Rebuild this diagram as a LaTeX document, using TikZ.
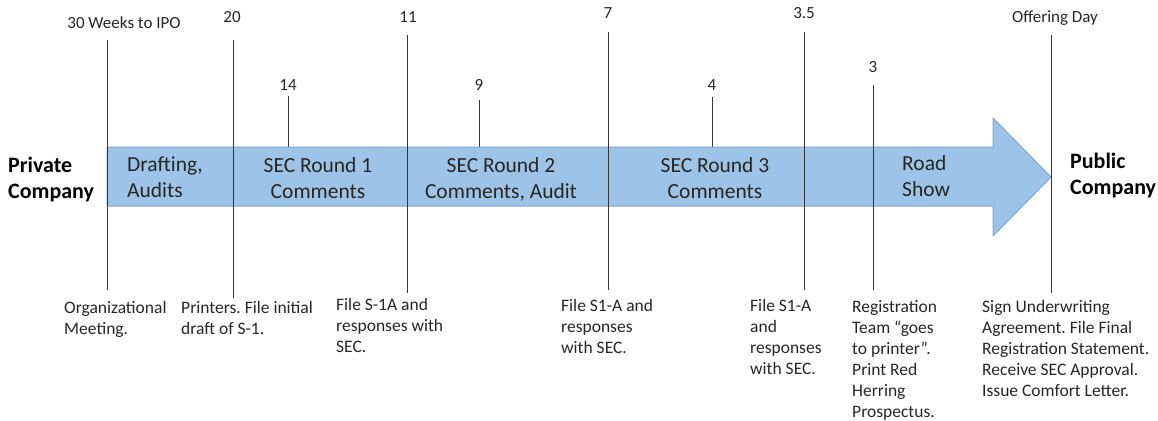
\documentclass[tikz,border=0pt]{standalone}
\usepackage{fontspec}
\setmainfont{Carlito}
\frenchspacing
\definecolor{arrowfill}{RGB}{157,195,230}
\definecolor{arrowedge}{RGB}{128,168,214}
\definecolor{textgray}{RGB}{38,38,38}
\definecolor{linegray}{RGB}{55,55,55}

\begin{document}
\begin{tikzpicture}[x=1pt,y=-1pt]

	\tikzstyle week=[font=\fontsize{17}{20}\selectfont, text=textgray, inner sep=0pt, anchor=base];
	\tikzstyle task note=[font=\fontsize{17.5}{21}\selectfont, text=textgray, inner sep=0pt, align=left, anchor=north west];
	\tikzstyle phase=[font=\fontsize{21.5}{26}\selectfont, text=textgray, inner sep=0pt, align=center, anchor=north];
	\tikzstyle company=[font=\bfseries\fontsize{22}{26}\selectfont, text=black, inner sep=0pt, align=left, anchor=north west];
	\tikzstyle week lines=[line width=0.9pt, draw=linegray];

	\useasboundingbox (0,0) rectangle (1158,420);

	% timeline arrow
	\filldraw[fill=arrowfill, draw=arrowedge, line width=1pt] (107,147) -- (993,147) -- (993,118) -- (1051,177) -- (993,236) -- (993,206) -- (107,206) -- cycle;

	% phases
	\node[company] (private) at (8,157) {Private\\Company};
	\node[company] (public) at (1070,153) {Public\\Company};
	\node[phase, align=left, anchor=north west] (drafting) at (127,157) {Drafting,\\Audits};
	\node[phase] (round1) at (318,157) {SEC Round 1\\Comments};
	\node[phase] (round2) at (501,157) {SEC Round 2\\Comments, Audit};
	\node[phase] (round3) at (715,157) {SEC Round 3\\Comments};
	\node[phase, align=left, anchor=north west] (roadshow) at (902,155) {Road\\Show};

	% weeks to IPO
	\node[week] (w30) at (124,29) {30 Weeks to IPO};
	\node[week] (w20) at (232,23) {20};
	\node[week] (w14) at (288,90) {14};
	\node[week] (w11) at (408,23) {11};
	\node[week] (w9) at (479,90) {9};
	\node[week] (w7) at (608,19) {7};
	\node[week] (w4) at (712,90) {4};
	\node[week] (w35) at (804,19) {3.5};
	\node[week] (w3) at (873,73) {3};
	\node[week] (w0) at (1055,23) {Offering Day};

	\coordinate (t30) at (107,40);   \coordinate (b30) at (107,290);
	\coordinate (t20) at (233,40);   \coordinate (b20) at (233,298);
	\coordinate (t14) at (288,96);   \coordinate (b14) at (288,147);
	\coordinate (t11) at (407,35);   \coordinate (b11) at (407,293);
	\coordinate (t9) at (479,100);   \coordinate (b9) at (479,147);
	\coordinate (t7) at (608,32);    \coordinate (b7) at (608,290);
	\coordinate (t4) at (712,97);    \coordinate (b4) at (712,147);
	\coordinate (t35) at (804,32);   \coordinate (b35) at (804,290);
	\coordinate (t3) at (873,85);    \coordinate (b3) at (873,290);
	\coordinate (t0) at (1051,35);   \coordinate (b0) at (1051,293);

	\draw[week lines] (t30) -- (b30);
	\draw[week lines] (t20) -- (b20);
	\draw[week lines] (t14) -- (b14);
	\draw[week lines] (t11) -- (b11);
	\draw[week lines] (t9) -- (b9);
	\draw[week lines] (t7) -- (b7);
	\draw[week lines] (t4) -- (b4);
	\draw[week lines] (t35) -- (b35);
	\draw[week lines] (t3) -- (b3);
	\draw[week lines] (t0) -- (b0);

	% what happens
	\node[task note] (n30) at (64,301) {Organizational\\Meeting.};
	\node[task note] (n20) at (181,301) {Printers. File initial\\draft of S-1.};
	\node[task note] (n11) at (336,298) {File S-1A and\\responses with\\SEC.};
	\node[task note] (n7) at (561,299) {File S1-A and\\responses\\with SEC.};
	\node[task note] (n35) at (750,299) {File S1-A\\and\\responses\\with SEC.};
	\node[task note] (n3) at (852,300) {Registration\\Team “goes\\to printer”.\\Print Red\\Herring\\Prospectus.};
	\node[task note] (n0) at (982,300) {Sign Underwriting\\Agreement. File Final\\Registration Statement.\\Receive SEC Approval.\\Issue Comfort Letter.};

\end{tikzpicture}
\end{document}
